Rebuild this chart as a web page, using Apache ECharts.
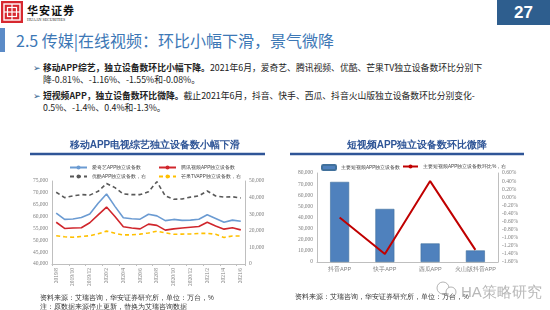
<!DOCTYPE html>
<html>
<head>
<meta charset="utf-8">
<script src="https://cdn.jsdelivr.net/npm/echarts@6/dist/echarts.min.js"></script>
<style>
  body { margin: 0; width: 550px; height: 310px; overflow: hidden; background: #fff; position: relative; font-family: "Noto Sans CJK SC", sans-serif; }
  .abs { position: absolute; white-space: nowrap; }
  #chart { position: absolute; left: 0; top: 0; width: 550px; height: 310px; }
</style>
</head>
<body>
<!-- 页眉 -->
<svg class="abs" style="left:1px;top:1px" width="22" height="22">
  <rect width="22" height="22" fill="#d7282f"/>
  <rect x="3" y="3" width="16" height="16" fill="none" stroke="#fff" stroke-width="1.4"/>
  <rect x="6.5" y="6.5" width="9" height="9" fill="none" stroke="#fff" stroke-width="1.2"/>
  <line x1="11" y1="3" x2="11" y2="19" stroke="#fff" stroke-width="1.2"/>
  <line x1="3" y1="11" x2="19" y2="11" stroke="#fff" stroke-width="1.2"/>
</svg>
<div class="abs" style="left:27px;top:2px;font-size:11px;letter-spacing:1px;color:#111;font-weight:bold;">华安证券</div>
<div class="abs" style="left:27px;top:17px;font-size:4px;color:#222;font-family:'Liberation Serif',serif;">HUAAN SECURITIES</div>
<div class="abs" style="left:497px;top:0;width:53px;height:25px;background:#2e5e8e;color:#fff;font:bold 17px 'Liberation Sans',sans-serif;line-height:25px;text-align:center;">27</div>
<div class="abs" style="left:0;top:28px;width:5px;height:24px;background:#5b8bc7;"></div>
<div class="abs" style="left:16px;top:30px;font-size:16px;line-height:20px;color:#3d78b6;">2.5 传媒|在线视频：环比小幅下滑，景气微降</div>

<!-- 要点 -->
<div class="abs" style="left:33px;top:62px;font-size:8.8px;line-height:11.5px;color:#222;">
  <span style="color:#2e5e8e">➢</span>
</div>
<div class="abs" style="left:43px;top:62px;font-size:8.8px;line-height:11.5px;color:#222;">
  <b>移动APP综艺，独立设备数环比小幅下降。</b>2021年6月，爱奇艺、腾讯视频、优酷、芒果TV独立设备数环比分别下<br>降-0.81%、-1.16%、-1.55%和-0.08%。
</div>
<div class="abs" style="left:33px;top:90px;font-size:8.8px;line-height:11.5px;color:#222;">
  <span style="color:#2e5e8e">➢</span>
</div>
<div class="abs" style="left:43px;top:90px;font-size:8.8px;line-height:11.5px;color:#222;">
  <b>短视频APP，独立设备数环比微降。</b>截止2021年6月，抖音、快手、西瓜、抖音火山版独立设备数环比分别变化-<br>0.5%、-1.4%、0.4%和-1.3%。
</div>

<div id="chart"></div>

<script>
  // 移动APP电视综艺独立设备数（万台）
  const months = ['2019/8', '2019/9', '2019/10', '2019/11', '2019/12', '2020/1', '2020/2', '2020/3',
    '2020/4', '2020/5', '2020/6', '2020/7', '2020/8', '2020/9', '2020/10', '2020/11', '2020/12',
    '2021/1', '2021/2', '2021/3', '2021/4', '2021/5', '2021/6']
  const iqiyi = [61500, 58800, 59000, 59600, 61100, 65600, 69500, 64300, 59500, 59100, 58900, 61000,
    60300, 58300, 58800, 58400, 58500, 58900, 60800, 59200, 57600, 58500, 58000]
  const tencent = [57600, 55000, 55200, 55300, 57400, 60700, 64000, 60000, 55700, 55200, 54800, 56800,
    56300, 54300, 54800, 55200, 55500, 55800, 57600, 56000, 54700, 55300, 54400]
  const youku = [43200, 40000, 41000, 41800, 41500, 43800, 48500, 46000, 42200, 41800, 41800, 43500,
    49600, 41000, 39000, 39200, 40300, 41000, 44000, 41000, 40300, 40500, 39800]
  const mango = [17000, 16400, 16100, 16600, 17000, 18200, 19800, 18500, 17500, 17600, 18000, 18700,
    19800, 18800, 17900, 18000, 18100, 18400, 18500, 17900, 16000, 16900, 16900]

  // 短视频APP独立设备数
  const apps = ['抖音APP', '快手APP', '西瓜APP', '火山版抖音APP']
  const appDevices = [72000, 47700, 16700, 10400]
  const appMoM = [-0.5, -1.4, 0.4, -1.3]

  const axisColor = '#bfbfbf'
  const labelColor = '#7f7f7f'
  const numFont = 'Liberation Serif'
  const fmtThousand = v => v.toLocaleString('en-US')

  function valAxis (gridIndex, min, max, interval, formatter, pos) {
    return {
      type: 'value', gridIndex, min, max, interval, position: pos,
      axisLine: { show: true, lineStyle: { color: axisColor } },
      axisTick: { show: false },
      splitLine: { show: false },
      axisLabel: { color: labelColor, fontSize: 5.5, fontFamily: numFont, margin: 4, formatter }
    }
  }

  const legendText = { fontSize: 4.6, color: '#404040' }
  const myChart = echarts.init(document.getElementById('chart'))
  myChart.setOption({
    animation: false,
    title: [
      { text: '移动APP电视综艺独立设备数小幅下滑', left: 150, top: 135, textAlign: 'center',
        textStyle: { fontSize: 10, fontWeight: 'bold', color: '#2f5597' } },
      { text: '短视频APP独立设备数环比微降', left: 412, top: 135, textAlign: 'center',
        textStyle: { fontSize: 10, fontWeight: 'bold', color: '#2f5597' } },
      { text: '资料来源：艾瑞咨询，华安证券研究所，单位：万台，%', left: 35, top: 290,
        textStyle: { fontSize: 6.5, fontWeight: 'normal', color: '#333' } },
      { text: '注：原数据来源停止更新，替换为艾瑞咨询数据', left: 35, top: 299,
        textStyle: { fontSize: 6.5, fontWeight: 'normal', color: '#333' } },
      { text: '资料来源：艾瑞咨询，华安证券研究所，单位：万台，%', left: 290, top: 289,
        textStyle: { fontSize: 6.5, fontWeight: 'normal', color: '#333' } },
      { text: 'HA策略研究', left: 456, top: 280,
        textStyle: { fontSize: 15, fontWeight: 'normal', color: 'rgba(160,160,160,0.75)' } }
    ],
    graphic: [
      { type: 'line', shape: { x1: 30, y1: 154, x2: 265, y2: 154 }, style: { stroke: '#2f5597', lineWidth: 2.5 } },
      { type: 'line', shape: { x1: 290, y1: 154, x2: 524, y2: 154 }, style: { stroke: '#2f5597', lineWidth: 2.5 } },
      { type: 'circle', shape: { cx: 443, cy: 288, r: 6 }, style: { fill: 'none', stroke: 'rgba(160,160,160,0.8)', lineWidth: 1 } },
      { type: 'circle', shape: { cx: 451, cy: 292, r: 5 }, style: { fill: '#fff', stroke: 'rgba(160,160,160,0.8)', lineWidth: 1 } }
    ],
    legend: [
      { data: ['爱奇艺APP独立设备数'], left: 64, top: 160, itemWidth: 17, itemHeight: 5, itemGap: 2, textStyle: legendText },
      { data: ['腾讯视频APP独立设备数'], left: 153, top: 160, itemWidth: 17, itemHeight: 5, itemGap: 2, textStyle: legendText },
      { data: ['优酷APP独立设备数，右'], left: 64, top: 169, itemWidth: 17, itemHeight: 5, itemGap: 2, textStyle: legendText },
      { data: ['芒果TVAPP独立设备数，右'], left: 153, top: 169, itemWidth: 17, itemHeight: 5, itemGap: 2, textStyle: legendText },
      { data: ['主要短视频APP独立设备数'], left: 316, top: 159, itemWidth: 14, itemHeight: 5, textStyle: legendText },
      { data: ['主要短视频APP独立设备数环比%，右'], left: 397, top: 159, itemWidth: 15, itemHeight: 5, textStyle: legendText }
    ],
    grid: [
      { left: 52, top: 181, width: 193, height: 83 },
      { left: 317, top: 173, width: 181, height: 89 }
    ],
    xAxis: [
      {
        type: 'category', gridIndex: 0, data: months, boundaryGap: true,
        axisLine: { lineStyle: { color: axisColor } },
        axisTick: { show: true, interval: 1, length: 2, lineStyle: { color: axisColor } },
        axisLabel: { interval: 1, rotate: 90, color: labelColor, fontSize: 5.5, fontFamily: numFont, margin: 4 }
      },
      {
        type: 'category', gridIndex: 1, data: apps,
        axisLine: { lineStyle: { color: axisColor } },
        axisTick: { show: false },
        axisLabel: { interval: 0, color: labelColor, fontSize: 5.5, margin: 4 }
      }
    ],
    yAxis: [
      valAxis(0, 40000, 75000, 5000, fmtThousand, 'left'),
      valAxis(0, 0, 50000, 10000, fmtThousand, 'right'),
      valAxis(1, 0, 80000, 10000, fmtThousand, 'left'),
      valAxis(1, -1.6, 0.6, 0.2, v => v.toFixed(2) + '%', 'right')
    ],
    series: [
      { name: '爱奇艺APP独立设备数', type: 'line', xAxisIndex: 0, yAxisIndex: 0, data: iqiyi,
        symbol: 'none', lineStyle: { color: '#6b9bd2', width: 1.6 }, itemStyle: { color: '#6b9bd2' } },
      { name: '腾讯视频APP独立设备数', type: 'line', xAxisIndex: 0, yAxisIndex: 0, data: tencent,
        symbol: 'none', lineStyle: { color: '#d0262c', width: 1.6 }, itemStyle: { color: '#d0262c' } },
      { name: '优酷APP独立设备数，右', type: 'line', xAxisIndex: 0, yAxisIndex: 1, data: youku,
        symbol: 'none', lineStyle: { color: '#595959', width: 1.6, type: [4, 3] }, itemStyle: { color: '#595959' } },
      { name: '芒果TVAPP独立设备数，右', type: 'line', xAxisIndex: 0, yAxisIndex: 1, data: mango,
        symbol: 'none', lineStyle: { color: '#ffc000', width: 1.6, type: [4, 3] }, itemStyle: { color: '#ffc000' } },
      { name: '主要短视频APP独立设备数', type: 'bar', xAxisIndex: 1, yAxisIndex: 2, data: appDevices,
        barWidth: '42%', itemStyle: { color: '#4f81bd', borderColor: '#41719c', borderWidth: 0.6 } },
      { name: '主要短视频APP独立设备数环比%，右', type: 'line', xAxisIndex: 1, yAxisIndex: 3, data: appMoM,
        symbol: 'none', z: 5, lineStyle: { color: '#c00000', width: 2 }, itemStyle: { color: '#c00000' } }
    ]
  })
</script>
</body>
</html>
